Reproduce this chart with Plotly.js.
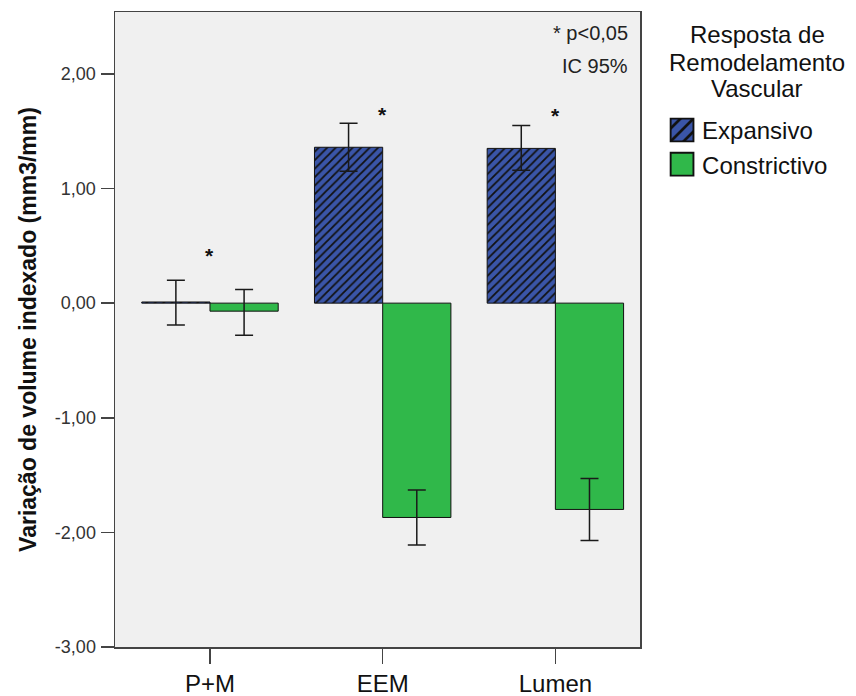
<!DOCTYPE html>
<html>
<head>
<meta charset="utf-8">
<script src="https://cdn.plot.ly/plotly-3.0.1.min.js"></script>
<style>html,body{margin:0;padding:0;background:#fff;}#chart{width:856px;height:696px;}</style>
</head>
<body>
<div id="chart"></div>
<script>
const categories = ["P+M", "EEM", "Lumen"];
const expansivoValues = [0.01, 1.36, 1.35];
const expansivoUpper = [0.20, 1.57, 1.55];
const expansivoLower = [-0.19, 1.15, 1.16];
const constrictivoValues = [-0.07, -1.87, -1.80];
const constrictivoUpper = [0.12, -1.63, -1.53];
const constrictivoLower = [-0.28, -2.11, -2.07];
const asteriskY = [0.42, 1.65, 1.64];
const yTickVals = [-3, -2, -1, 0, 1, 2];
const yTickText = ["-3,00", "-2,00", "-1,00", "0,00", "1,00", "2,00"];
const legendTitleLines = ["Resposta de", "Remodelamento", "Vascular"];

function errs(vals, up, lo) {
  return {
    plus: up.map((u, i) => u - vals[i]),
    minus: lo.map((l, i) => vals[i] - l)
  };
}
const eE = errs(expansivoValues, expansivoUpper, expansivoLower);
const eC = errs(constrictivoValues, constrictivoUpper, constrictivoLower);

const font = "'Liberation Sans', Arial, sans-serif";

const traces = [
  {
    type: "bar", name: "Expansivo", x: categories, y: expansivoValues,
    marker: {
      color: "#3a55a8",
      line: {color: "#111", width: 1},
      pattern: {shape: "/", fillmode: "replace", fgcolor: "#111", bgcolor: "#3a55a8", size: 6, solidity: 0.3}
    },
    error_y: {type: "data", symmetric: false, array: eE.plus, arrayminus: eE.minus, color: "#1a1a1a", thickness: 1.5, width: 9}
  },
  {
    type: "bar", name: "Constrictivo", x: categories, y: constrictivoValues,
    marker: {color: "#30b84a", line: {color: "#111", width: 1}},
    error_y: {type: "data", symmetric: false, array: eC.plus, arrayminus: eC.minus, color: "#1a1a1a", thickness: 1.5, width: 9}
  }
];

const annotations = categories.map((c, i) => ({
  x: c, y: asteriskY[i], xref: "x", yref: "y", text: "<b>*</b>", showarrow: false,
  font: {family: font, size: 21, color: "#111"}, yanchor: "middle"
}));
annotations.push({
  xref: "paper", yref: "paper", x: 0.98, y: 0.987, xanchor: "right", yanchor: "top",
  text: "* p<0,05", showarrow: false, align: "right",
  font: {family: font, size: 20, color: "#222"}
});
annotations.push({
  xref: "paper", yref: "paper", x: 0.98, y: 0.935, xanchor: "right", yanchor: "top",
  text: "IC 95%", showarrow: false, align: "right",
  font: {family: font, size: 20, color: "#222"}
});
const titleY = [0.964, 0.921, 0.879];
legendTitleLines.forEach((t, i) => annotations.push({
  xref: "paper", yref: "paper", x: 1.223, y: titleY[i], xanchor: "center", yanchor: "middle",
  text: t, showarrow: false, font: {family: font, size: 24, color: "#111"}
}));

const layout = {
  width: 856, height: 696,
  margin: {l: 115, r: 216, t: 12, b: 49},
  paper_bgcolor: "#ffffff", plot_bgcolor: "#f0f0f0",
  barmode: "group", bargap: 0.21, bargroupgap: 0,
  showlegend: true,
  legend: {
    x: 1.042, xanchor: "left", y: 0.849, yanchor: "top",
    font: {family: font, size: 24, color: "#111"},
    itemwidth: 30, tracegroupgap: 0, bgcolor: "rgba(0,0,0,0)"
  },
  xaxis: {
    type: "category", range: [-0.55, 2.49],
    showline: true, mirror: true, linecolor: "#444", linewidth: 1.5,
    ticks: "outside", ticklen: 15, tickcolor: "#444", tickwidth: 1.5,
    tickfont: {family: font, size: 24, color: "#111"},
    showgrid: false, zeroline: false
  },
  yaxis: {
    range: [-3, 2.54], tickvals: yTickVals, ticktext: yTickText,
    showline: true, mirror: true, linecolor: "#444", linewidth: 1.5,
    ticks: "outside", ticklen: 13, tickcolor: "#444", tickwidth: 1.5,
    tickfont: {family: font, size: 18, color: "#333"},
    ticklabelstandoff: 1,
    showgrid: false, zeroline: false,
    title: {text: "<b>Variação de volume indexado (mm3/mm)</b>", font: {family: font, size: 23, color: "#111"}, standoff: 12}
  },
  annotations: annotations
};

Plotly.newPlot("chart", traces, layout, {displayModeBar: false, staticPlot: true}).then(gd => {
  gd.querySelectorAll(".legend .legendpoints path").forEach(p => {
    const t = p.getAttribute("transform") || "";
    p.setAttribute("transform", t + " scale(1.9)");
  });
});
</script>
</body>
</html>
